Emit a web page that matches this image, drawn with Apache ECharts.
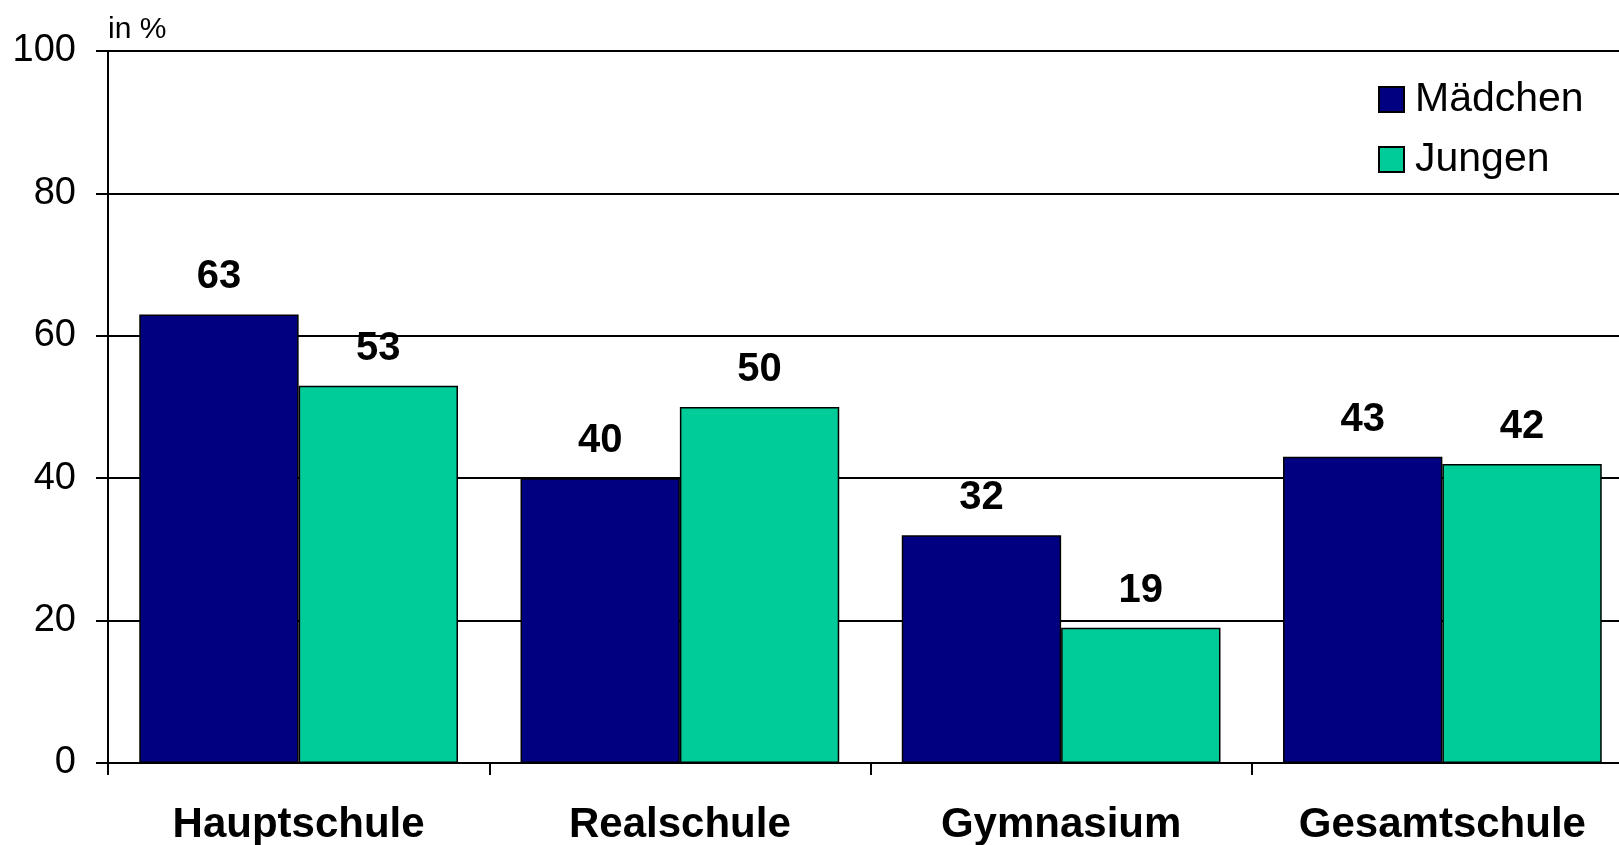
<!DOCTYPE html>
<html>
<head>
<meta charset="utf-8">
<script src="https://cdn.jsdelivr.net/npm/echarts@6/dist/echarts.min.js"></script>
<style>
html,body{margin:0;padding:0;background:#fff;}
#chart{width:1619px;height:845px;}
</style>
</head>
<body>
<div id="chart"></div>
<script>
const categories = ['Hauptschule', 'Realschule', 'Gymnasium', 'Gesamtschule'];
const maedchen = [63, 40, 32, 43];
const jungen = [53, 50, 19, 42];
const yTicks = [0, 20, 40, 60, 80, 100];

const FONT = '"Liberation Sans", Arial, sans-serif';
const chart = echarts.init(document.getElementById('chart'));
const labelStyle = {
  show: true, position: 'top', distance: 17,
  color: '#000', fontFamily: FONT, fontWeight: 'bold', fontSize: 40
};
chart.setOption({
  animation: false,
  backgroundColor: '#fff',
  textStyle: { fontFamily: FONT },
  grid: { left: 108, top: 51, width: 1525, height: 712, outerBoundsMode: 'none', containLabel: false },
  legend: {
    orient: 'vertical', left: 1378, top: 79, padding: 0,
    itemWidth: 25, itemHeight: 25, itemGap: 19,
    icon: 'rect',
    textStyle: { fontFamily: FONT, fontSize: 41, color: '#000', padding: [0, 0, 0, 6] },
    data: ['Mädchen', 'Jungen']
  },
  xAxis: {
    type: 'category', data: categories,
    axisLine: { show: true, lineStyle: { color: '#000', width: 2 } },
    axisTick: { show: true, length: 12, lineStyle: { color: '#000', width: 2 } },
    axisLabel: { color: '#000', fontFamily: FONT, fontWeight: 'bold', fontSize: 42, margin: 41 }
  },
  yAxis: {
    type: 'value', min: yTicks[0], max: yTicks[yTicks.length - 1], interval: 20,
    name: 'in %', nameLocation: 'end', nameGap: 6,
    nameTextStyle: { color: '#000', fontFamily: FONT, fontSize: 30, align: 'left', verticalAlign: 'bottom', padding: [0, 0, 0, 0] },
    axisLine: { show: true, lineStyle: { color: '#000', width: 2 } },
    axisTick: { show: true, length: 12, lineStyle: { color: '#000', width: 2 } },
    axisLabel: { color: '#000', fontFamily: FONT, fontSize: 38, margin: 32 },
    splitLine: { show: true, lineStyle: { color: '#000', width: 2 } }
  },
  series: [
    {
      name: 'Mädchen', type: 'bar', data: maedchen,
      barGap: '0%', barCategoryGap: '16.4%',
      itemStyle: { color: '#000080', borderColor: '#000', borderWidth: 1.5 },
      label: labelStyle
    },
    {
      name: 'Jungen', type: 'bar', data: jungen,
      barGap: '0%', barCategoryGap: '16.4%',
      itemStyle: { color: '#00CC99', borderColor: '#000', borderWidth: 1.5 },
      label: labelStyle
    }
  ]
});
</script>
</body>
</html>
